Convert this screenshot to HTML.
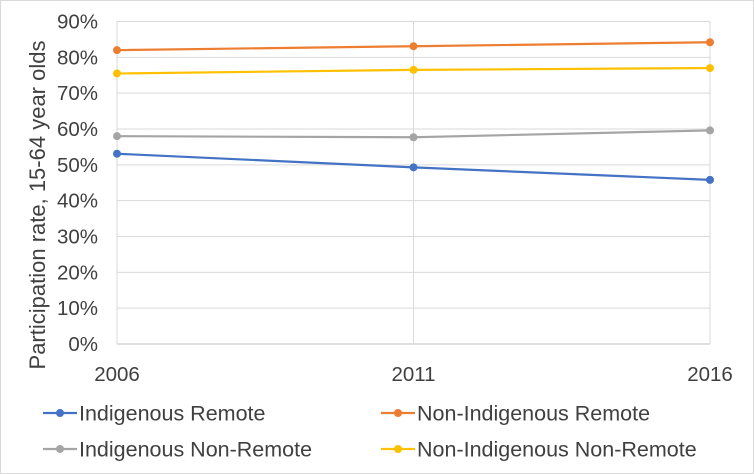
<!DOCTYPE html>
<html><head><meta charset="utf-8"><style>
html,body{margin:0;padding:0;background:#fff}
svg{display:block;font-family:"Liberation Sans",Arial,sans-serif}
</style></head><body>
<svg id="chart" width="754" height="474" viewBox="0 0 754 474" xmlns="http://www.w3.org/2000/svg">
<rect x="0.5" y="0.5" width="753" height="473" fill="#fff" stroke="#d9d9d9"/>
<g id="grid"></g>
<g id="yticks"></g>
<g id="xticks"></g>
<g id="series"></g>
<text transform="translate(45,205) rotate(-90)" text-anchor="middle" font-size="22" fill="#404040">Participation rate, 15-64 year olds</text>
<g id="legend"></g>
</svg>
<script>
const categories = ["2006","2011","2016"];
const yTicks = [0,10,20,30,40,50,60,70,80,90];
const seriesNames = ["Indigenous Remote","Non-Indigenous Remote","Indigenous Non-Remote","Non-Indigenous Non-Remote"];
const indigenousRemote = [53.1,49.3,45.8];
const nonIndigenousRemote = [82.0,83.1,84.2];
const indigenousNonRemote = [58.0,57.7,59.6];
const nonIndigenousNonRemote = [75.5,76.5,77.0];
const seriesColors = ["#4472c4","#ed7d31","#a5a5a5","#ffc000"];

const NS="http://www.w3.org/2000/svg";
const x0=117,x1=710,y0=344,yTop=21.5,yMax=90;
function xs(i){return x0+(x1-x0)*i/(categories.length-1);}
function ys(v){return y0-(y0-yTop)*v/yMax;}
function mk(tag,parent,attrs){const e=document.createElementNS(NS,tag);for(const k in attrs)e.setAttribute(k,attrs[k]);parent.appendChild(e);return e;}
const grid=document.getElementById('grid'),yt=document.getElementById('yticks'),xt=document.getElementById('xticks'),sg=document.getElementById('series'),lg=document.getElementById('legend');
yTicks.forEach(t=>{
  const l=mk('line',grid,{x1:x0,x2:x1,y1:ys(t),y2:ys(t),stroke:t===0?'#bfbfbf':'#d9d9d9','stroke-width':1});
  
  
  const tx=mk('text',yt,{x:98,y:ys(t)+7,'text-anchor':'end','font-size':20.5,fill:'#404040'});
  tx.textContent=t+'%';
  
  
});
categories.forEach((c,i)=>{
  const l=mk('line',grid,{x1:xs(i),x2:xs(i),y1:yTop,y2:y0,stroke:'#d9d9d9','stroke-width':1});
  
  
  const tx=mk('text',xt,{x:xs(i),y:381,'text-anchor':'middle','font-size':20.5,fill:'#404040'});
  tx.textContent=c;
  
  
});
const allSeries=[indigenousRemote,nonIndigenousRemote,indigenousNonRemote,nonIndigenousNonRemote];
allSeries.forEach((vals,s)=>{
  const pts=vals.map((v,i)=>xs(i)+','+ys(v)).join(' ');
  const pl=mk('polyline',sg,{points:pts,fill:'none',stroke:seriesColors[s],'stroke-width':2.2});
  
  
  vals.forEach((v,i)=>{
    const c=mk('circle',sg,{cx:xs(i),cy:ys(v),r:4,fill:seriesColors[s]});
    
    
  });
});
const legPos=[[43,413],[381,413],[43,449],[381,449]];
seriesNames.forEach((n,s)=>{
  const [lx,ly]=legPos[s];
  const g=mk('g',lg,{});
  
  
  mk('line',g,{x1:lx,x2:lx+34,y1:ly,y2:ly,stroke:seriesColors[s],'stroke-width':2.2});
  mk('circle',g,{cx:lx+17,cy:ly,r:4,fill:seriesColors[s]});
  const t=mk('text',g,{x:lx+36,y:ly+7.5,'font-size':21.5,fill:'#404040'});
  t.textContent=n;
});
</script>
</body></html>
